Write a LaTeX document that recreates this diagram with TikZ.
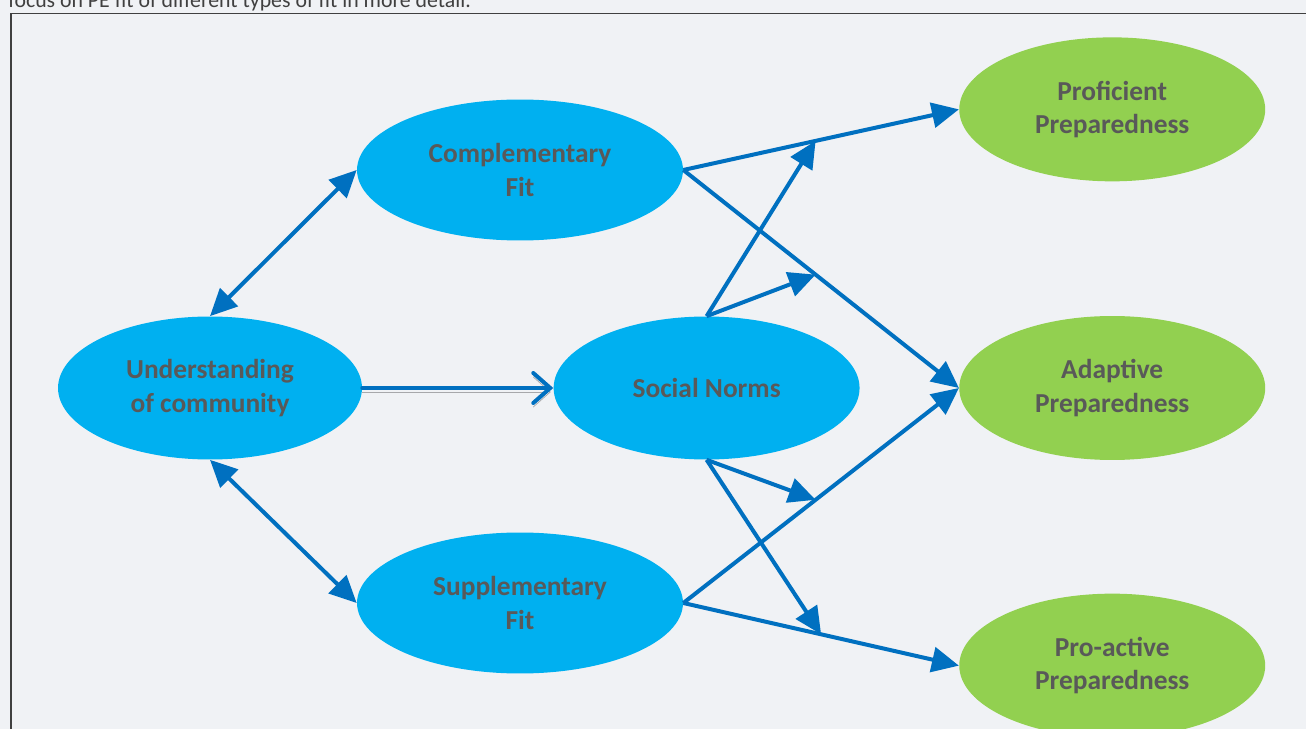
\documentclass[tikz,border=0pt]{standalone}
\usepackage{fontspec}
\setmainfont{Carlito}
\usepackage{tikz}
\usetikzlibrary{shapes,arrows.meta}
\usetikzlibrary{positioning}
\definecolor{pagebg}{RGB}{240,242,245}
\definecolor{fitblue}{RGB}{0,176,240}
\definecolor{prepgreen}{RGB}{146,208,80}
\definecolor{linkblue}{RGB}{0,112,192}
\definecolor{labelgray}{RGB}{89,89,89}
\tikzstyle{arrow} = [line width=0.08cm, draw=linkblue, -{Triangle[length=0.54cm,width=0.5cm]}]
\tikzstyle{biarrow} = [line width=0.08cm, draw=linkblue,
    {Triangle[length=0.54cm,width=0.5cm]}-{Triangle[length=0.54cm,width=0.5cm]}]
\tikzstyle{mainarrow} = [line width=0.08cm, draw=linkblue, line cap=round,
    -{Straight Barb[length=0.34cm,width=0.6cm,line cap=round]},
    preaction={draw=black, opacity=0.3, transform canvas={yshift=-0.08cm}}]
\tikzstyle{driver} = [
    ellipse, minimum width=6.1cm, minimum height=2.86cm, inner sep=0pt, align=center,
    fill=fitblue, text=labelgray, font=\fontsize{15.6}{19}\selectfont\bfseries]
\tikzstyle{outcome} = [
    ellipse, minimum width=6.12cm, minimum height=2.88cm, inner sep=0pt, align=center,
    fill=prepgreen, text=labelgray, font=\fontsize{15.6}{19}\selectfont\bfseries]
\begin{document}
\begin{tikzpicture}[x=0.02cm, y=-0.02cm]
\useasboundingbox (0,0) rectangle (1306,729);
\fill[pagebg] (0,0) rectangle (1306,729);
\node (caption) [anchor=base west, inner sep=0pt, text=black!75,
    font=\fontsize{12.4}{15}\selectfont] at (8,7.5)
    {focus on PE fit of different types of fit in more detail.};
\draw[black!75, line width=0.03cm] (11,13.5) rectangle (1340,760);

\node (understanding) [driver, minimum width=6.08cm] at (210,388) {Understanding \\ of community};
\node (social-norms) [driver, minimum width=6.12cm, right=3.82cm of understanding] {Social Norms};
\node (complementary-fit) [driver, minimum width=6.52cm, minimum height=2.82cm] at (520,170) {Complementary \\ Fit};
\node (supplementary-fit) [driver, minimum width=6.52cm, minimum height=2.82cm] at (520,603) {Supplementary \\ Fit};

\node (adaptive-prep) [outcome, right=1.98cm of social-norms] {Adaptive \\ Preparedness};
\node (proficient-prep) [outcome, above=2.68cm of adaptive-prep] {Proficient \\ Preparedness};
\node (proactive-prep) [outcome, below=2.66cm of adaptive-prep] {Pro-active \\ Preparedness};

% points where social norms act on the fit paths
\path (complementary-fit.east) -- (proficient-prep.west) coordinate[pos=0.48] (mod-proficient);
\path (complementary-fit.east) -- (adaptive-prep.west) coordinate[pos=0.48] (mod-adaptive-top);
\path (supplementary-fit.east) -- (adaptive-prep.west) coordinate[pos=0.48] (mod-adaptive-bottom);
\path (supplementary-fit.east) -- (proactive-prep.west) coordinate[pos=0.5] (mod-proactive);

\draw [biarrow] (understanding.north) -- (complementary-fit.west);
\draw [biarrow] (understanding.south) -- (supplementary-fit.west);
\draw [mainarrow] (understanding.east) -- (social-norms.west);

\draw [arrow] (complementary-fit.east) -- (proficient-prep.west);
\draw [arrow] (complementary-fit.east) -- (adaptive-prep.west);
\draw [arrow] (supplementary-fit.east) -- (adaptive-prep.west);
\draw [arrow] (supplementary-fit.east) -- (proactive-prep.west);

\draw [arrow] (social-norms.north) -- (mod-proficient);
\draw [arrow] (social-norms.north) -- (mod-adaptive-top);
\draw [arrow] (social-norms.south) -- (mod-adaptive-bottom);
\draw [arrow] (social-norms.south) -- (mod-proactive);
\end{tikzpicture}
\end{document}
